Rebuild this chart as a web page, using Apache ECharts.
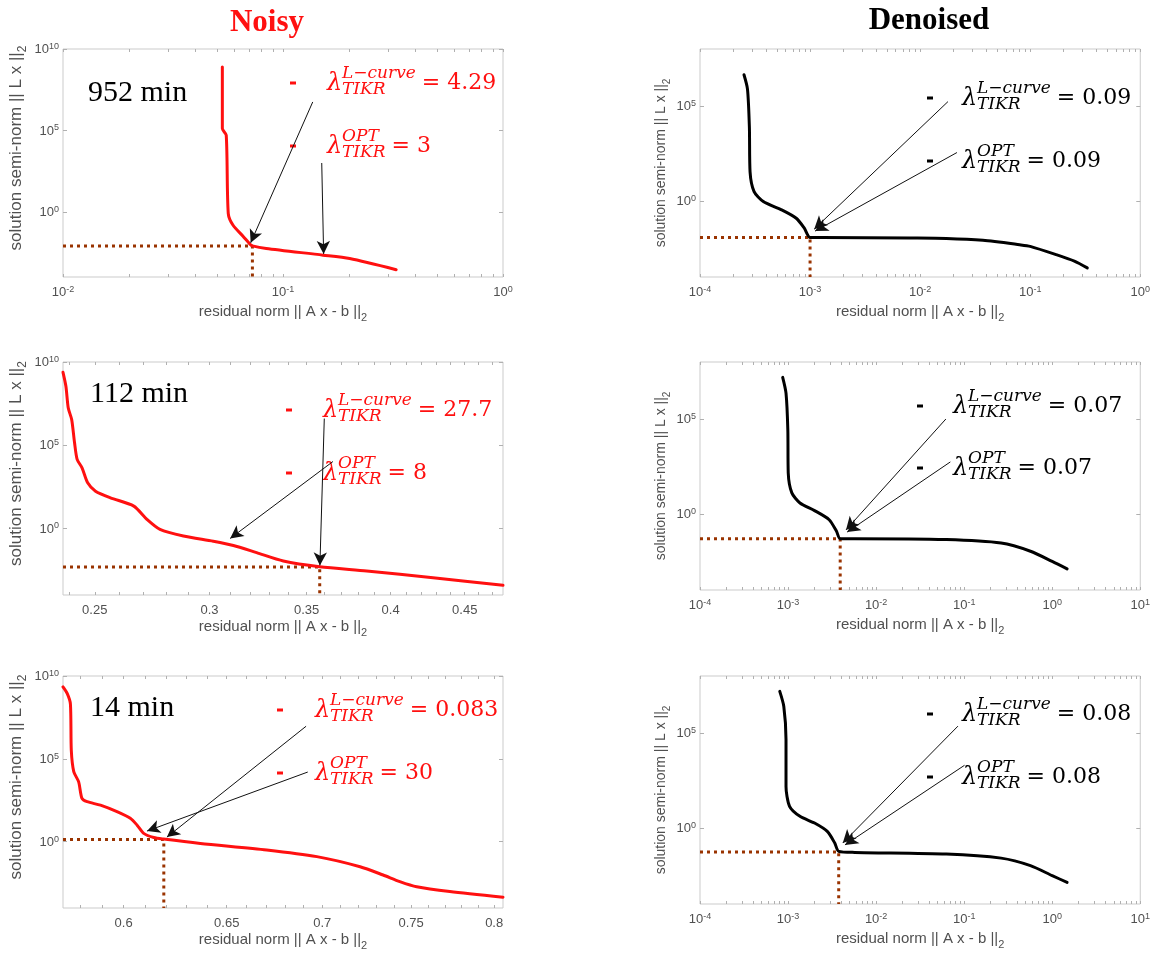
<!DOCTYPE html>
<html>
<head>
<meta charset="utf-8">
<script src="https://cdn.jsdelivr.net/npm/echarts@6/dist/echarts.min.js"></script>
<style>
  html, body { margin: 0; padding: 0; background: #ffffff; }
  #chart { width: 1153px; height: 956px; }
</style>
</head>
<body>
<div id="chart"></div>
<script>
// ---------------- L-curves: residual norm vs. solution semi-norm ----------------
// Noisy data, 952 min
const res952Noisy  = [0.053, 0.053, 0.0552, 0.0564, 0.0593, 0.0658, 0.0710, 0.0726, 0.0839, 0.152, 0.201, 0.327];
const norm952Noisy = [7.9e8, 1.3e5, 5.1e4, 0.79, 0.15, 0.032, 0.0098, 0.0081, 0.0056, 0.0022, 0.00135, 0.00028];
// Denoised data, 952 min
const res952Den  = [2.51e-4, 2.70e-4, 2.81e-4, 2.85e-4, 3.10e-4, 3.76e-4, 5.51e-4, 7.49e-4, 8.87e-4, 1.0e-3, 1.28e-3, 8.0e-3, 0.0173, 0.0372, 0.08, 0.1, 0.172, 0.252, 0.33];
const norm952Den = [4.4e6, 7.8e5, 7.6e3, 34, 3.1, 0.93, 0.34, 0.123, 0.037, 0.012, 0.012, 0.0112, 0.0107, 0.0085, 0.005, 0.0041, 0.0015, 0.00068, 0.0003];
// Noisy data, 112 min
const res112Noisy  = [0.2377, 0.2388, 0.2397, 0.2410, 0.2421, 0.2431, 0.2450, 0.2472, 0.2503, 0.2563, 0.2660, 0.2716, 0.2773, 0.2878, 0.3018, 0.3116, 0.3233, 0.3373, 0.3574, 0.3851, 0.4279, 0.4782];
const norm112Noisy = [2.4e9, 3.5e8, 1.7e7, 3.5e6, 1.4e5, 1.4e4, 4.4e3, 550, 174, 69, 22, 3.5, 0.87, 0.35, 0.17, 0.095, 0.035, 0.011, 0.005, 0.0028, 0.0011, 0.00038];
// Denoised data, 112 min
const res112Den  = [8.69e-4, 9.48e-4, 9.94e-4, 1.005e-3, 1.104e-3, 1.365e-3, 2.0e-3, 2.93e-3, 3.55e-3, 3.91e-3, 5.73e-3, 0.0627, 0.263, 0.566, 1.0, 1.476];
const norm112Den = [1.55e7, 2.3e6, 2.75e4, 145, 12.9, 3.8, 1.51, 0.50, 0.123, 0.050, 0.050, 0.045, 0.0295, 0.011, 0.0032, 0.0013];
// Noisy data, 14 min
const res14Noisy  = [0.5724, 0.5743, 0.5757, 0.5761, 0.5772, 0.5794, 0.5809, 0.5832, 0.5893, 0.5969, 0.6031, 0.6063, 0.6094, 0.6142, 0.6189, 0.6368, 0.6705, 0.6971, 0.7209, 0.7339, 0.7435, 0.7533, 0.7729, 0.8055];
const norm14Noisy = [2.2e9, 8.7e8, 2.1e8, 3.3e5, 1.7e4, 4.1e3, 410, 260, 160, 65, 26, 10, 3.2, 1.8, 1.45, 0.79, 0.32, 0.126, 0.031, 0.0098, 0.0039, 0.0019, 0.00098, 0.00045];
// Denoised data, 14 min
const res14Den  = [8.05e-4, 8.95e-4, 9.48e-4, 9.48e-4, 1.04e-3, 1.365e-3, 2.0e-3, 2.79e-3, 3.39e-3, 3.76e-3, 5.73e-3, 0.0627, 0.263, 0.566, 1.0, 1.476];
const norm14Den = [1.55e7, 2.5e6, 4.5e4, 155, 13.8, 4.1, 1.82, 0.66, 0.162, 0.059, 0.052, 0.043, 0.026, 0.0105, 0.0031, 0.00138];

// Selected corner (residual, semi-norm) marked by the dotted guides
const corner952Noisy = [0.0726, 0.0081];
const corner952Den   = [1.0e-3, 0.012];
const corner112Noisy = [0.3574, 0.0048];
const corner112Den   = [3.91e-3, 0.050];
const corner14Noisy  = [0.619, 1.38];
const corner14Den    = [3.76e-3, 0.055];

// Arrows: [tail residual, tail norm, head residual, head norm]
const arrows952Noisy = [[0.1365, 5.6e6, 0.0713, 0.0126], [0.150, 1.0e3, 0.153, 0.0026]];
const arrows952Den   = [[0.0179, 1.7e5, 1.09e-3, 0.033], [0.0216, 355, 1.11e-3, 0.026]];
const arrows112Noisy = [[0.360, 4.0e6, 0.3575, 0.006], [0.365, 1.05e4, 0.310, 0.25]];
const arrows112Den   = [[0.062, 1.0e5, 4.55e-3, 0.145], [0.0697, 550, 4.69e-3, 0.112]];
const arrows14Noisy  = [[0.6913, 9.3e6, 0.6205, 1.9], [0.6922, 1.6e4, 0.611, 4.4]];
const arrows14Den    = [[0.085, 2.3e5, 4.18e-3, 0.162], [0.101, 2.0e3, 4.43e-3, 0.129]];

// Regularisation parameters
const lambdaLcurveNoisy = ['4.29', '27.7', '0.083'];
const lambdaOptNoisy    = ['3', '8', '30'];
const lambdaLcurveDen   = ['0.09', '0.07', '0.08'];
const lambdaOptDen      = ['0.09', '0.07', '0.08'];
const acquisitionTimes  = ['952 min', '112 min', '14 min'];

// Tick labels
const xTicks952Noisy = [0.01, 0.1, 1];
const xTicks112Noisy = [0.25, 0.3, 0.35, 0.4, 0.45];
const xTicks14Noisy  = [0.6, 0.65, 0.7, 0.75, 0.8];
const xTicksDen952   = [1e-4, 1e-3, 1e-2, 1e-1, 1];
const xTicksDen      = [1e-4, 1e-3, 1e-2, 1e-1, 1, 10];
const yTicksNoisy    = [1, 1e5, 1e10];
const yTicksDen      = [1, 1e5];

// ---------------- styling helpers ----------------
const RED = '#ff1010';
const BLACK = '#000000';
const GUIDE = '#993300';
const AX_GRAY = '#505050';
const TICK_GRAY = '#b0b0b0';
const SANS = '"Liberation Sans", Arial, sans-serif';
const SERIF = '"Liberation Serif", "Times New Roman", serif';
const MATH = '"DejaVu Serif", serif';
const lg = Math.log10;

function minorLogTicks(lo, hi) {
  const out = [];
  for (let e = Math.floor(lg(lo)) - 1; e <= Math.ceil(lg(hi)); e++) {
    for (let k = 1; k < 10; k++) {
      const v = k * Math.pow(10, e);
      if (v >= lo * 0.9999 && v <= hi * 1.0001) out.push(lg(v));
    }
  }
  return out;
}
function stepTicks(lo, hi, step) {
  const out = [];
  for (let v = Math.ceil(lo / step) * step; v <= hi + 1e-9; v += step) out.push(lg(+v.toFixed(4)));
  return out;
}
function supRich(size) {
  return {
    b: { fontSize: size, fontFamily: SANS, color: AX_GRAY, lineHeight: size + 1, verticalAlign: 'bottom' },
    e: { fontSize: Math.round(size * 0.72), fontFamily: SANS, color: AX_GRAY, lineHeight: 5, verticalAlign: 'top' }
  };
}
function nameRich(size) {
  return {
    n: { fontSize: size, fontFamily: SANS, color: AX_GRAY, lineHeight: size + 4, verticalAlign: 'top' },
    s: { fontSize: Math.round(size * 0.72), fontFamily: SANS, color: AX_GRAY, lineHeight: 7, verticalAlign: 'bottom' }
  };
}
const powLabel = v => '{b|10}{e|' + Math.round(v) + '}';
const plainLabel = v => '{b|' + String(+Math.pow(10, v).toFixed(2)) + '}';

// ---------------- panel layout ----------------
const panels = [
  { grid: { left: 63, top: 49, width: 440, height: 228 }, res: res952Noisy, norm: norm952Noisy, color: RED,
    xRange: [0.01, 1], yRange: [1e-4, 1e10], xMajor: xTicks952Noisy, xMinor: minorLogTicks(0.01, 1), xFmt: powLabel,
    yMajor: yTicksNoisy, corner: corner952Noisy, arrows: arrows952Noisy, noisy: true, xNameGap: 27,
    time: [acquisitionTimes[0], 88, 93], lam: { dash: 290, x: 327, y: [83, 146], vals: [lambdaLcurveNoisy[0], lambdaOptNoisy[0]] } },
  { grid: { left: 700, top: 49, width: 442, height: 228 }, res: res952Den, norm: norm952Den, color: BLACK,
    xRange: [1e-4, 1], yRange: [1e-4, 1e8], xMajor: xTicksDen952, xMinor: minorLogTicks(1e-4, 1), xFmt: powLabel,
    yMajor: yTicksDen, corner: corner952Den, arrows: arrows952Den, noisy: false, xNameGap: 27,
    lam: { dash: 927, x: 962, y: [98, 161], vals: [lambdaLcurveDen[0], lambdaOptDen[0]] } },
  { grid: { left: 63, top: 362, width: 440, height: 233 }, res: res112Noisy, norm: norm112Noisy, color: RED,
    xRange: [0.2377, 0.4782], yRange: [1e-4, 1e10], xMajor: xTicks112Noisy, xMinor: stepTicks(0.2377, 0.4782, 0.01), xFmt: plainLabel,
    yMajor: yTicksNoisy, corner: corner112Noisy, arrows: arrows112Noisy, noisy: true, xNameGap: 24,
    time: [acquisitionTimes[1], 90, 394], lam: { dash: 286, x: 323, y: [410, 473], vals: [lambdaLcurveNoisy[1], lambdaOptNoisy[1]] } },
  { grid: { left: 700, top: 362, width: 442, height: 228 }, res: res112Den, norm: norm112Den, color: BLACK,
    xRange: [1e-4, 10], yRange: [1e-4, 1e8], xMajor: xTicksDen, xMinor: minorLogTicks(1e-4, 10), xFmt: powLabel,
    yMajor: yTicksDen, corner: corner112Den, arrows: arrows112Den, noisy: false, xNameGap: 27,
    lam: { dash: 917, x: 953, y: [406, 468], vals: [lambdaLcurveDen[1], lambdaOptDen[1]] } },
  { grid: { left: 63, top: 676, width: 440, height: 232 }, res: res14Noisy, norm: norm14Noisy, color: RED,
    xRange: [0.5724, 0.8055], yRange: [1e-4, 1e10], xMajor: xTicks14Noisy, xMinor: stepTicks(0.5724, 0.8055, 0.01), xFmt: plainLabel,
    yMajor: yTicksNoisy, corner: corner14Noisy, arrows: arrows14Noisy, noisy: true, xNameGap: 24,
    time: [acquisitionTimes[2], 90, 708], lam: { dash: 277, x: 315, y: [710, 773], vals: [lambdaLcurveNoisy[2], lambdaOptNoisy[2]] } },
  { grid: { left: 700, top: 676, width: 442, height: 228 }, res: res14Den, norm: norm14Den, color: BLACK,
    xRange: [1e-4, 10], yRange: [1e-4, 1e8], xMajor: xTicksDen, xMinor: minorLogTicks(1e-4, 10), xFmt: powLabel,
    yMajor: yTicksDen, corner: corner14Den, arrows: arrows14Den, noisy: false, xNameGap: 27,
    lam: { dash: 927, x: 962, y: [714, 777], vals: [lambdaLcurveDen[2], lambdaOptDen[2]] } }
];

// ---------------- λ annotations ----------------
const measure = document.createElement('canvas').getContext('2d');
function widthOf(text, font) { measure.font = font; return measure.measureText(text).width; }
function txt(text, x, y, font, color) {
  return { type: 'text', x: x, y: y, silent: true,
    style: { text: text, font: font, fill: color, textAlign: 'left', textVerticalAlign: 'middle', align: 'left', verticalAlign: 'middle' } };
}
function lambdaLabel(x, y, dashX, sup, value, color) {
  const fBig = 'italic 24px ' + MATH;
  const fSmall = 'italic 17px ' + MATH;
  const fVal = '22px ' + MATH;
  const w = Math.max(widthOf(sup, fSmall), widthOf('TIKR', fSmall));
  return [
    { type: 'rect', silent: true, shape: { x: dashX, y: y - 1.5, width: 6, height: 3 }, style: { fill: color } },
    txt('λ', x, y + 1, fBig, color),
    txt(sup, x + 15, y - 9, fSmall, color),
    txt('TIKR', x + 15, y + 7, fSmall, color),
    txt('= ' + value, x + 15 + w + 6, y, fVal, color)
  ];
}

// ---------------- build option ----------------
const option = {
  animation: false,
  backgroundColor: '#ffffff',
  title: [
    { text: 'Noisy', left: 267, top: 7, textAlign: 'center', padding: 0,
      textStyle: { fontFamily: SERIF, fontWeight: 'bold', fontSize: 31, color: RED } },
    { text: 'Denoised', left: 929, top: 5, textAlign: 'center', padding: 0,
      textStyle: { fontFamily: SERIF, fontWeight: 'bold', fontSize: 31, color: BLACK } }
  ],
  grid: [], xAxis: [], yAxis: [], series: [], graphic: []
};

panels.forEach((p, i) => {
  option.grid.push(Object.assign({ show: true, borderColor: '#cbcbcb', borderWidth: 1, backgroundColor: 'transparent' }, p.grid));
  const xMin = lg(p.xRange[0]), xMax = lg(p.xRange[1]);
  const yMin = lg(p.yRange[0]), yMax = lg(p.yRange[1]);
  const xMajor = p.xMajor.map(lg);
  const yMajor = p.yMajor.map(lg);
  const xAllTicks = p.xMinor.concat(xMajor);
  const tickStyle = { show: true, inside: true, length: 3, lineStyle: { color: TICK_GRAY, width: 1 } };
  const noLine = { show: false, onZero: false };
  const nameSizeY = p.noisy ? 17 : 14;

  option.xAxis.push({
    gridIndex: i, type: 'value', min: xMin, max: xMax, position: 'bottom',
    axisLine: noLine, splitLine: { show: false },
    axisTick: Object.assign({ customValues: xAllTicks }, tickStyle),
    axisLabel: { customValues: xMajor, formatter: p.xFmt, margin: 8, rich: supRich(13), hideOverlap: false },
    name: '{n|residual norm || A x - b ||}{s|2}', nameLocation: 'middle', nameGap: p.xNameGap,
    nameTextStyle: { rich: nameRich(15) }
  });
  option.xAxis.push({
    gridIndex: i, type: 'value', min: xMin, max: xMax, position: 'top',
    axisLine: noLine, splitLine: { show: false }, axisLabel: { show: false },
    axisTick: Object.assign({ customValues: xAllTicks }, tickStyle)
  });
  option.yAxis.push({
    gridIndex: i, type: 'value', min: yMin, max: yMax, position: 'left',
    axisLine: noLine, splitLine: { show: false },
    axisTick: Object.assign({ customValues: yMajor }, tickStyle, { length: 4 }),
    axisLabel: { customValues: yMajor, formatter: powLabel, margin: 4, rich: supRich(13), hideOverlap: false },
    name: '{n|solution semi-norm || L x ||}{s|2}', nameLocation: 'middle', nameRotate: 90,
    nameGap: p.noisy ? 34 : 28,
    nameTextStyle: { rich: nameRich(nameSizeY), padding: p.noisy ? [0, 0, 0, 30] : 0 }
  });
  option.yAxis.push({
    gridIndex: i, type: 'value', min: yMin, max: yMax, position: 'right',
    axisLine: noLine, splitLine: { show: false }, axisLabel: { show: false },
    axisTick: Object.assign({ customValues: yMajor }, tickStyle, { length: 4 })
  });

  // L-curve
  option.series.push({
    type: 'line', xAxisIndex: 2 * i, yAxisIndex: 2 * i, silent: true,
    data: p.res.map((r, k) => [lg(r), lg(p.norm[k])]),
    showSymbol: false, smooth: 0.25, z: 3,
    lineStyle: { color: p.color, width: 3, cap: 'round', join: 'round' }
  });
  // dotted guides to the selected corner, with the annotation arrows
  const cx = lg(p.corner[0]), cy = lg(p.corner[1]);
  option.series.push({
    type: 'line', xAxisIndex: 2 * i, yAxisIndex: 2 * i, silent: true,
    data: [[xMin, cy], [cx, cy], [cx, yMin]],
    showSymbol: false, z: 2,
    lineStyle: { color: GUIDE, width: 3, type: [3, 4] },
    markLine: {
      silent: true, animation: false, symbol: ['none', 'arrow'], symbolSize: [6, 13],
      label: { show: false },
      lineStyle: { color: '#111111', width: 1, type: 'solid' },
      emphasis: { disabled: true },
      data: p.arrows.map(a => [
        { coord: [lg(a[0]), lg(a[1])] },
        { coord: [lg(a[2]), lg(a[3])], symbolSize: [10, 13] }
      ])
    }
  });

  // λ annotations
  const lamColor = p.noisy ? RED : BLACK;
  option.graphic.push(...lambdaLabel(p.lam.x, p.lam.y[0], p.lam.dash, 'L\u2212curve', p.lam.vals[0], lamColor));
  option.graphic.push(...lambdaLabel(p.lam.x, p.lam.y[1], p.lam.dash, 'OPT', p.lam.vals[1], lamColor));
  if (p.time) {
    option.graphic.push(txt(p.time[0], p.time[1], p.time[2], '30px ' + SERIF, BLACK));
  }
});

const chart = echarts.init(document.getElementById('chart'), null, { renderer: 'canvas' });
chart.setOption(option);
</script>
</body>
</html>
